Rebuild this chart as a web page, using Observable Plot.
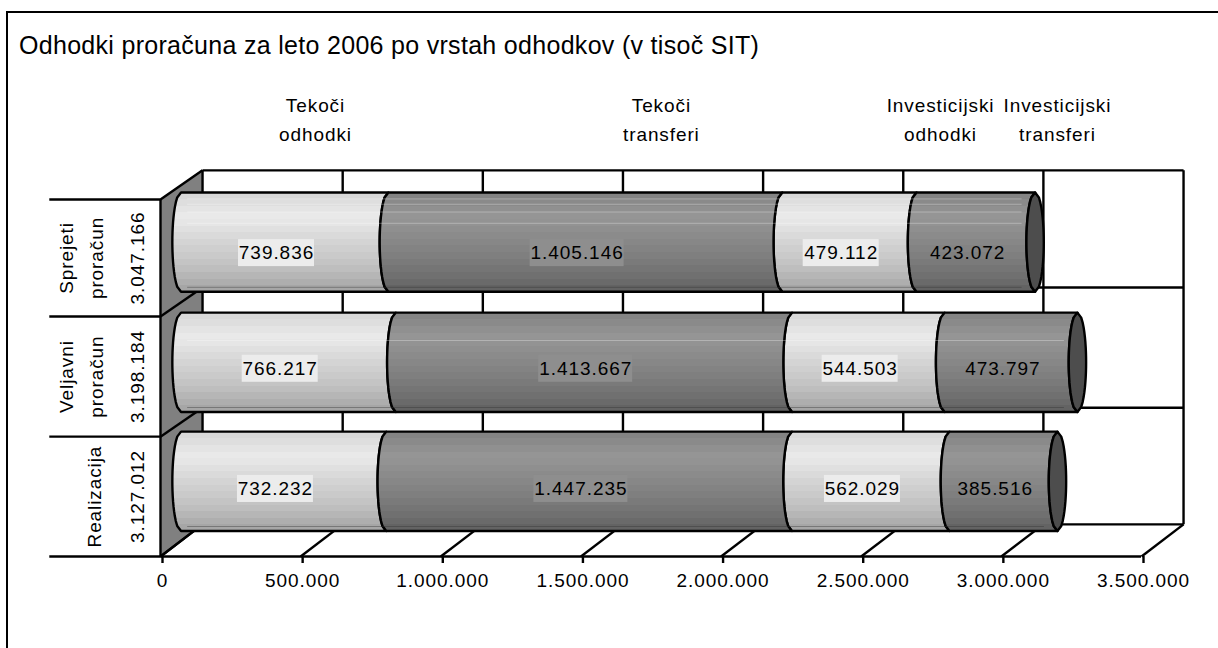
<!DOCTYPE html>
<html lang="sl">
<head>
<meta charset="utf-8">
<title>Odhodki proračuna</title>
<script src="https://cdn.jsdelivr.net/npm/d3@7"></script>
<script src="https://cdn.jsdelivr.net/npm/@observablehq/plot@0.6"></script>
<style>
html,body{margin:0;padding:0;background:#fff;overflow:hidden;width:1218px;height:648px}
#frame{position:absolute;left:6px;top:11px;width:1300px;height:700px;border:2px solid #000;box-sizing:border-box;pointer-events:none}
#title{position:absolute;left:19px;top:31px;font:25px "Liberation Sans",Arial,sans-serif;color:#000;white-space:nowrap;letter-spacing:.3px}
#chart{position:absolute;left:0;top:0}
svg text{font-family:"Liberation Sans",Arial,sans-serif}
.num text,.num{letter-spacing:.95px}
.head text,.head{letter-spacing:.9px}
</style>
</head>
<body>
<div id="chart"></div>
<div id="frame"></div>
<div id="title">Odhodki proračuna za leto 2006 po vrstah odhodkov (v tisoč SIT)</div>
<script>
// --- values ---
const rows = ["Sprejeti\nproračun", "Veljavni\nproračun", "Realizacija"];
const rowTotals = ["3.047.166", "3.198.184", "3.127.012"];
const kinds = ["Tekoči\nodhodki", "Tekoči\ntransferi", "Investicijski\nodhodki", "Investicijski\ntransferi"];
const tekociOdhodki = [739836, 766217, 732232];
const tekociTransferi = [1405146, 1413667, 1447235];
const investOdhodki = [479112, 544503, 562029];
const investTransferi = [423072, 473797, 385516];
const tickValues = [0, 500000, 1000000, 1500000, 2000000, 2500000, 3000000, 3500000];
const tickLabels = ["0", "500.000", "1.000.000", "1.500.000", "2.000.000", "2.500.000", "3.000.000", "3.500.000"];

// --- layout, in scale units ---
const wallDx = 150000;                           // depth of the 3-D box along x
const frontRows = [0, 1.007, 2.017, 3];          // row dividers on the front edge
const backRows = [0.27, 1.25, 2.26, 3.245];      // row dividers on the back wall
const barBase = [2.22, 1.21, 0.21];              // bar bottom per row
const labelDrop = [.088, .05, .06];              // value label sits a little below the bar's middle
const barThick = 0.835, barDx = 75000, arc = 31000;
const headerX = [553000, 1787000, 2783000, 3200000];
const lightBands = ["#d9d9d9","#dedede","#e4e4e4","#e9e9e9","#e6e6e6","#e0e0e0","#dadada","#d4d4d4","#cfcfcf","#cacaca","#c4c4c4","#bebebe","#b6b6b6","#aeaeae","#a6a6a6"];
const darkBands = ["#848484","#8a8a8a","#909090","#959595","#939393","#8f8f8f","#8b8b8b","#878787","#838383","#7f7f7f","#7a7a7a","#757575","#707070","#6a6a6a","#636363"];

const ts = d3.range(-1, 1.0001, 0.1);
const bulge = t => arc * Math.sqrt(Math.max(0, 1 - t * t));
const series = [tekociOdhodki, tekociTransferi, investOdhodki, investTransferi];

const segments = [], labels = [], totals = [];
rows.forEach((row, r) => {
  let acc = 0;
  series.forEach((s, k) => {
    segments.push({r, k, start: acc, end: acc + s[r], light: k % 2 === 0});
    labels.push({r, k, mid: acc + s[r] / 2, text: d3.format(",")(s[r]).replace(/,/g, "."), light: k % 2 === 0});
    acc += s[r];
  });
  totals.push(acc);
});
const yOf = (r, t) => barBase[r] + barThick * (t + 1) / 2;
const segPts = segments.flatMap(s => ts.map(t => ({
  id: s.r + "-" + s.k, light: s.light,
  x1: barDx + s.start - bulge(t), x2: barDx + s.end - bulge(t), y: yOf(s.r, t)
})));
const capPts = totals.flatMap((end, r) => ts.map(t => ({
  id: r, x1: barDx + end - bulge(t), x2: barDx + end + bulge(t), y: yOf(r, t)
})));
const wallPts = [{x: 0, y1: frontRows[0], y2: frontRows[3]}, {x: wallDx, y1: backRows[0], y2: backRows[3]}];
// faint printing artefacts inside the bars (row, distance below the bar top)
const streaks = [[0, .05], [0, .095], [0, .16], [0, .255], [1, .23]];

function gradient(id, colors) {
  const n = colors.length;
  const stops = colors.flatMap((c, i) => [
    `<stop offset="${i / n}" stop-color="${c}"/>`,
    `<stop offset="${(i + 1) / n}" stop-color="${c}"/>`
  ]).join("");
  return `<linearGradient id="${id}" x1="0" y1="0" x2="0" y2="1">${stops}</linearGradient>`;
}
const defs = () => {
  const g = document.createElementNS("http://www.w3.org/2000/svg", "defs");
  g.innerHTML = gradient("barLight", lightBands) + gradient("barDark", darkBands);
  return g;
};

const L = 2.4;
const rowMid = (d, i) => (frontRows[2 - i] + frontRows[3 - i]) / 2;
const labelY = d => barBase[d.r] + barThick / 2 - labelDrop[d.r];
const labelX = d => barDx + d.mid - arc;
const boxed = labels.filter(d => d.k !== 3);
const boxMark = (data, half) => Plot.rect(data, {x1: labelX, x2: labelX, y1: labelY, y2: labelY,
  insetLeft: -half, insetRight: -half, insetTop: -13.5, insetBottom: -13.5, fill: d => d.light ? "#ececec" : "#8e8e8e"});
const chart = Plot.plot({
  width: 1218, height: 648,
  marginLeft: 160, marginRight: 77, marginTop: 199, marginBottom: 92,
  style: {background: "transparent", overflow: "visible"},
  x: {domain: [0, 3500000]},
  y: {domain: [0, 3], axis: null},
  marks: [
    defs,
    // left wall
    Plot.areaY(wallPts, {x: "x", y1: "y1", y2: "y2", fill: "#808080"}),
    Plot.link(frontRows, {x1: () => 0, x2: () => wallDx, y1: d => d, y2: (d, i) => backRows[i], stroke: "#000", strokeWidth: L}),
    Plot.ruleX([0], {y1: 0, y2: 3, stroke: "#000", strokeWidth: L}),
    // back wall
    Plot.link(backRows, {x1: () => wallDx, x2: () => 3500000 + wallDx, y1: d => d, y2: d => d, stroke: "#000", strokeWidth: L}),
    Plot.link(tickValues, {x1: d => d + wallDx, x2: d => d + wallDx, y1: () => backRows[0], y2: () => backRows[3], stroke: "#000", strokeWidth: L}),
    // floor diagonals
    Plot.link(tickValues, {x1: d => d, x2: d => d + wallDx, y1: () => 0, y2: () => backRows[0], stroke: "#000", strokeWidth: L}),
    // bars
    Plot.areaX(segPts.filter(d => d.light), {x1: "x1", x2: "x2", y: "y", z: "id", fill: "url(#barLight)", stroke: "#000", strokeWidth: L}),
    Plot.areaX(segPts.filter(d => !d.light), {x1: "x1", x2: "x2", y: "y", z: "id", fill: "url(#barDark)", stroke: "#000", strokeWidth: L}),
    Plot.areaX(capPts, {x1: "x1", x2: "x2", y: "y", z: "id", fill: "#4d4d4d", stroke: "#000", strokeWidth: L}),
    // streaks
    Plot.link(streaks, {x1: d => barDx + 20000, x2: d => barDx + totals[d[0]] - 50000,
      y1: d => barBase[d[0]] + barThick - d[1], y2: d => barBase[d[0]] + barThick - d[1], stroke: "#fff", strokeOpacity: .3, strokeWidth: 1}),
    Plot.link(rows.map((_, r) => r), {x1: d => barDx + 20000, x2: d => barDx + totals[d] - 50000,
      y1: d => barBase[d] + .042, y2: d => barBase[d] + .042, stroke: "#333", strokeOpacity: .4, strokeWidth: 1}),
    // value boxes + labels
    boxMark(boxed.filter(d => d.text.length === 7), 38),
    boxMark(boxed.filter(d => d.text.length > 7), 47),
    Plot.text(labels, {x: labelX, y: labelY, text: "text", fontSize: 19, fill: "#000", className: "num"}),
    // row labels
    Plot.text(rows.slice(0, 2), {x: () => 0, y: rowMid, text: d => d, rotate: -90, dx: -82, fontSize: 19, lineHeight: 1.58, fill: "#000", className: "head"}),
    Plot.text(rows.slice(2), {x: () => 0, y: d => rowMid(d, 2), text: d => d, rotate: -90, dx: -66, fontSize: 19, fill: "#000", className: "head"}),
    Plot.text(rowTotals, {x: () => 0, y: rowMid, text: d => d, rotate: -90, dx: -23, fontSize: 19, fill: "#000", className: "num"}),
    // headers
    Plot.text(kinds, {x: (d, i) => headerX[i], y: () => 3.69, text: d => d, fontSize: 19, lineHeight: 1.53, fill: "#000", className: "head"}),
    // axis
    Plot.axisX({ticks: tickValues, tickFormat: d => tickLabels[tickValues.indexOf(d)], tickSize: 7, tickPadding: 10, fontSize: 19, label: null, strokeWidth: L, stroke: "#000", fill: "#000", dx: 2, className: "num"}),
    Plot.ruleY([0], {x1: -395000, x2: 3500000, stroke: "#000", strokeWidth: L}),
    Plot.ruleY(frontRows.slice(1), {x1: -395000, x2: 0, stroke: "#000", strokeWidth: L})
  ]
});
document.getElementById("chart").append(chart);
</script>
</body>
</html>
